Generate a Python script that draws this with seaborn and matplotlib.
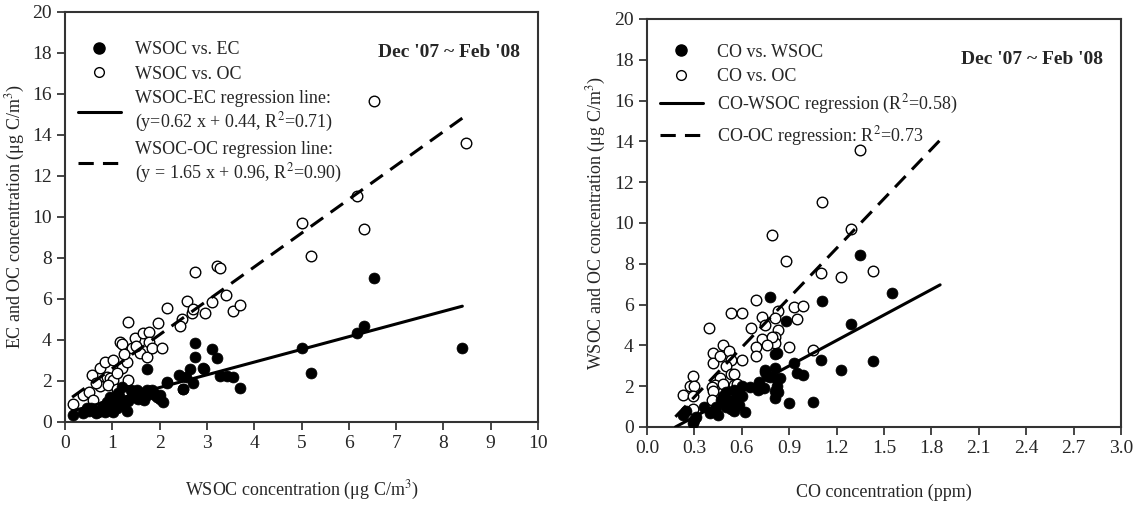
import numpy as np
import pandas as pd
import matplotlib
matplotlib.use('Agg')
import matplotlib.pyplot as plt
import seaborn as sns
from matplotlib.lines import Line2D

# --- données ---
# panneau gauche : WSOC vs EC (points pleins)
wsoc_ec_x = [0.16, 0.37, 0.46, 0.60, 0.65, 0.78, 0.85, 0.95, 1.02, 0.88, 0.95, 1.06, 1.13, 1.20,
             1.20, 1.30, 1.34, 1.41, 1.52, 1.62, 1.73, 1.74, 1.83, 1.90, 2.01, 2.15, 2.40, 2.49,
             2.56, 2.75, 2.75, 2.64, 2.94, 1.73, 2.07, 2.01, 2.15, 2.71, 2.50, 3.10, 3.22, 2.92,
             3.28, 3.42, 3.55, 3.69, 5.02, 5.21, 6.17, 6.32, 6.53, 8.39, 0.50, 0.70, 0.90, 1.10,
             1.25, 1.45, 1.55, 1.68, 1.00, 0.80, 1.15, 1.85, 1.95, 0.55, 1.40]
wsoc_ec_y = [0.34, 0.42, 0.67, 0.59, 0.42, 0.67, 0.51, 0.75, 0.51, 0.99, 1.23, 1.15, 1.40, 1.72,
             1.00, 0.55, 1.00, 1.48, 1.56, 1.40, 1.56, 2.57, 1.56, 1.31, 1.10, 1.97, 2.29, 1.59,
             2.20, 3.84, 3.19, 2.57, 2.57, 1.32, 0.99, 1.32, 1.92, 1.92, 1.59, 3.55, 3.11, 2.62,
             2.26, 2.26, 2.21, 1.64, 3.63, 2.41, 4.34, 4.68, 7.02, 3.61, 0.55, 0.50, 0.60, 0.70,
             0.90, 1.20, 1.10, 1.05, 0.90, 0.80, 1.25, 1.45, 1.20, 0.70, 1.55]
# panneau gauche : WSOC vs OC (cercles vides)
wsoc_oc_x = [0.16, 0.37, 0.51, 0.56, 0.74, 0.74, 0.60, 0.85, 1.02, 0.88, 0.95, 1.02, 1.20, 1.30,
             1.34, 1.16, 1.20, 1.34, 1.41, 1.48, 1.64, 1.59, 1.73, 1.78, 1.78, 1.83, 1.96, 2.05,
             2.15, 2.57, 2.47, 2.42, 2.68, 2.71, 2.75, 2.95, 3.10, 3.22, 3.28, 3.40, 3.55, 3.69,
             5.02, 5.21, 6.17, 6.32, 6.53, 8.48, 0.90, 1.10, 1.25, 0.65, 1.50, 1.10]
wsoc_oc_y = [0.88, 1.32, 1.48, 2.29, 2.62, 1.76, 1.07, 2.94, 3.02, 2.21, 2.13, 2.05, 2.62, 2.94,
             2.05, 3.92, 3.80, 4.89, 3.59, 4.08, 4.33, 3.38, 3.16, 4.41, 3.92, 3.59, 4.84, 3.59,
             5.58, 5.92, 5.00, 4.68, 5.30, 5.50, 7.33, 5.30, 5.87, 7.63, 7.50, 6.20, 5.43, 5.71,
             9.69, 8.10, 11.02, 9.41, 15.66, 13.60, 1.80, 2.40, 3.30, 1.90, 3.70, 1.60]

# panneau droit : CO vs WSOC (points pleins)
co_wsoc_x = [1.35, 1.55, 1.11, 0.78, 0.88, 1.29, 1.10, 1.43, 1.23, 0.93, 0.95, 0.99, 0.81, 0.82,
             0.81, 0.82, 0.81, 0.81, 0.90, 1.05, 0.29, 0.31, 0.23, 0.25, 0.36, 0.44, 0.40, 0.48,
             0.50, 0.52, 0.55, 0.57, 0.60, 0.62, 0.55, 0.65, 0.72, 0.75, 0.78, 0.75, 0.76, 0.84,
             0.71, 0.70, 0.74, 0.82, 0.83, 0.45, 0.50, 0.58, 0.53, 0.47, 0.60, 0.30]
co_wsoc_y = [8.43, 6.55, 6.19, 6.36, 5.21, 5.05, 3.28, 3.25, 2.79, 3.12, 2.67, 2.55, 3.60, 3.65,
             2.90, 2.34, 1.77, 1.44, 1.16, 1.21, 0.18, 0.50, 0.60, 0.80, 1.00, 1.00, 0.70, 1.50,
             1.70, 1.20, 0.80, 1.40, 2.00, 0.75, 1.80, 1.98, 1.90, 2.71, 2.47, 2.80, 2.50, 2.40,
             2.20, 1.80, 1.90, 2.00, 1.70, 0.60, 1.00, 1.10, 0.90, 1.30, 1.50, 0.35]
# panneau droit : CO vs OC (cercles vides)
co_oc_x = [1.35, 1.11, 1.29, 0.79, 0.88, 1.10, 1.23, 1.43, 0.93, 0.99, 0.95, 0.83, 0.81, 0.83,
           0.81, 0.81, 0.90, 1.05, 0.69, 0.53, 0.60, 0.39, 0.66, 0.73, 0.75, 0.73, 0.48, 0.42,
           0.42, 0.46, 0.52, 0.53, 0.69, 0.69, 0.79, 0.76, 0.50, 0.53, 0.55, 0.46, 0.43, 0.48,
           0.55, 0.29, 0.27, 0.30, 0.23, 0.29, 0.29, 0.41, 0.42, 0.41, 0.57, 0.60]
co_oc_y = [13.58, 11.04, 9.71, 9.41, 8.14, 7.53, 7.37, 7.66, 5.90, 5.93, 5.29, 5.70, 5.33, 4.75,
           4.43, 4.10, 3.94, 3.77, 6.23, 5.57, 5.60, 4.87, 4.87, 5.40, 5.00, 4.30, 4.02, 3.61,
           3.16, 3.50, 3.70, 3.30, 3.90, 3.50, 4.40, 4.00, 2.99, 2.60, 2.60, 2.38, 2.06, 2.10,
           2.06, 2.50, 2.00, 2.00, 1.57, 1.50, 0.87, 1.98, 1.75, 1.34, 2.10, 3.30]

# droites de régression (pente, ordonnée, domaine)
left_fits = {'EC': (0.62, 0.44), 'OC': (1.65, 0.96)}
left_span = [0.15, 8.4]
right_fits = {'WSOC': (4.16, -0.75), 'OC': (8.1, -0.96)}
right_span = [0.18, 1.855]

left_labels = ['WSOC vs. EC', 'WSOC vs. OC',
               'WSOC-EC regression line:\n(y=0.62 x + 0.44, R$^2$=0.71)',
               'WSOC-OC regression line:\n(y = 1.65 x + 0.96, R$^2$=0.90)']
right_labels = ['CO vs. WSOC', 'CO vs. OC',
                'CO-WSOC regression (R$^2$=0.58)', 'CO-OC regression: R$^2$=0.73']
period = "Dec '07 ~ Feb '08"

sns.set_style('ticks')
plt.rcParams['font.family'] = ['Liberation Serif', 'DejaVu Serif']
plt.rcParams['mathtext.fontset'] = 'stix'

fig = plt.figure(figsize=(11.37, 5.05), dpi=100)
ax1 = fig.add_axes([0.0572, 0.1644, 0.416, 0.812])
ax2 = fig.add_axes([0.569, 0.1545, 0.417, 0.808])


def draw_panel(ax, xf, yf, xo, yo, fits, span, labels, xlim, xticks, xlabel, ylabel, xfmt, leg_y):
    sns.scatterplot(x=xf, y=yf, ax=ax, color='black', edgecolor='black', s=62, linewidth=0.5, zorder=3)
    sns.scatterplot(x=xo, y=yo, ax=ax, facecolor='white', edgecolor='black', s=58, linewidth=1.0, zorder=2)
    xs = np.array(span)
    (a1, b1), (a2, b2) = list(fits.values())
    sns.lineplot(x=xs, y=a1 * xs + b1, ax=ax, color='black', lw=2.2, zorder=4)
    ax.plot(xs, a2 * xs + b2, color='black', lw=2.2, dashes=(5, 3), zorder=4)
    ax.set_xlim(*xlim)
    ax.set_ylim(0, 20)
    ax.set_xticks(xticks)
    ax.set_xticklabels([xfmt.format(t) for t in xticks])
    ax.set_yticks(range(0, 21, 2))
    ax.tick_params(axis='both', direction='out', length=6, width=1.2, labelsize=14, top=False, right=False)
    for sp in ax.spines.values():
        sp.set_linewidth(1.5)
        sp.set_color('#333333')
        sp.set_visible(True)
    ax.set_xlabel(xlabel, fontsize=13, labelpad=19)
    ax.set_ylabel(ylabel, fontsize=13, labelpad=4)
    ax.text(0.962, 0.9, period, transform=ax.transAxes, ha='right', va='center',
            fontsize=14, fontweight='bold')
    handles = [Line2D([], [], marker='o', ls='', color='black', markersize=8),
               Line2D([], [], marker='o', ls='', markerfacecolor='white', markeredgecolor='black', markersize=7),
               Line2D([], [], color='black', lw=2.2),
               Line2D([], [], color='black', lw=2.2, dashes=(5, 3))]
    ax.legend(handles, labels, loc='upper left', bbox_to_anchor=(0.0, leg_y), frameon=False,
              fontsize=13, handlelength=2.4, handletextpad=0.8, labelspacing=0.42, borderaxespad=0.3)


draw_panel(ax1, wsoc_ec_x, wsoc_ec_y, wsoc_oc_x, wsoc_oc_y, left_fits, left_span, left_labels,
           (0, 10), list(range(0, 11)), 'WSOC concentration (μg C/m$^3$)',
           'EC and OC concentration (μg C/m$^3$)', '{:d}', 0.96)
draw_panel(ax2, co_wsoc_x, co_wsoc_y, co_oc_x, co_oc_y, right_fits, right_span, right_labels,
           (0, 3.0), [round(0.3 * i, 1) for i in range(11)], 'CO concentration (ppm)',
           'WSOC and OC concentration (μg C/m$^3$)', '{:.1f}', 0.97)

fig.savefig('out.png', dpi=100)
